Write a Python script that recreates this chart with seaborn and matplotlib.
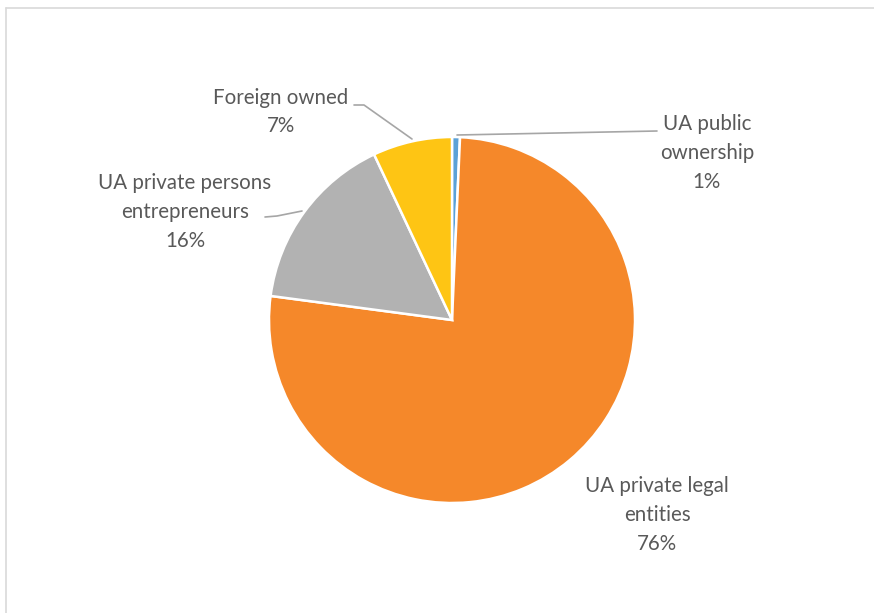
import matplotlib
matplotlib.use("Agg")
import matplotlib.pyplot as plt
import seaborn as sns

categories = ["UA public\nownership", "UA private legal\nentities",
              "UA private persons\nentrepreneurs", "Foreign owned"]
values = [0.7, 76.4, 15.9, 7.0]
pct_labels = ["1%", "76%", "16%", "7%"]
colors = ["#5BA1D7", "#F5882A", "#B2B2B2", "#FEC514"]

sns.set_theme(style="white")
plt.rcParams['font.family'] = ['Lato', 'DejaVu Sans']

W, H = 874, 613
fig = plt.figure(figsize=(W / 100, H / 100), dpi=100)
ax = fig.add_axes([0, 0, 1, 1])
ax.set_xlim(0, W)
ax.set_ylim(0, H)
ax.set_aspect('equal')
ax.axis('off')

def Y(y):
    return H - y

ax.pie(values, colors=colors, startangle=90, counterclock=False,
       center=(452, Y(320)), radius=183,
       wedgeprops=dict(edgecolor="white", linewidth=1.8))
ax.set_xlim(0, W)
ax.set_ylim(0, H)
ax.axis('off')

# chart frame
ax.plot([5.5, 5.5], [Y(613), Y(7.5)], color="#D9D9D9", lw=1.2)
ax.plot([5.5, W], [Y(7.5), Y(7.5)], color="#D9D9D9", lw=1.2)

txt_color = "#595959"
fs = 14.8
label_pos = [(707, 153), (657, 515), (185, 212), (281, 112)]
for cat, pct, (x, y) in zip(categories, pct_labels, label_pos):
    ax.text(x, Y(y), cat + "\n" + pct, ha="center", va="center",
            fontsize=fs, color=txt_color, linespacing=1.55,
            multialignment="center")

# leader lines
lc = "#A6A6A6"
ax.plot([457, 657], [Y(135), Y(131)], color=lc, lw=1.2)
ax.plot([354, 364, 412], [Y(105), Y(105), Y(139)], color=lc, lw=1.2)
ax.plot([265, 277, 302], [Y(217), Y(216), Y(211)], color=lc, lw=1.2)

fig.savefig("out.png", dpi=100, facecolor="white")
